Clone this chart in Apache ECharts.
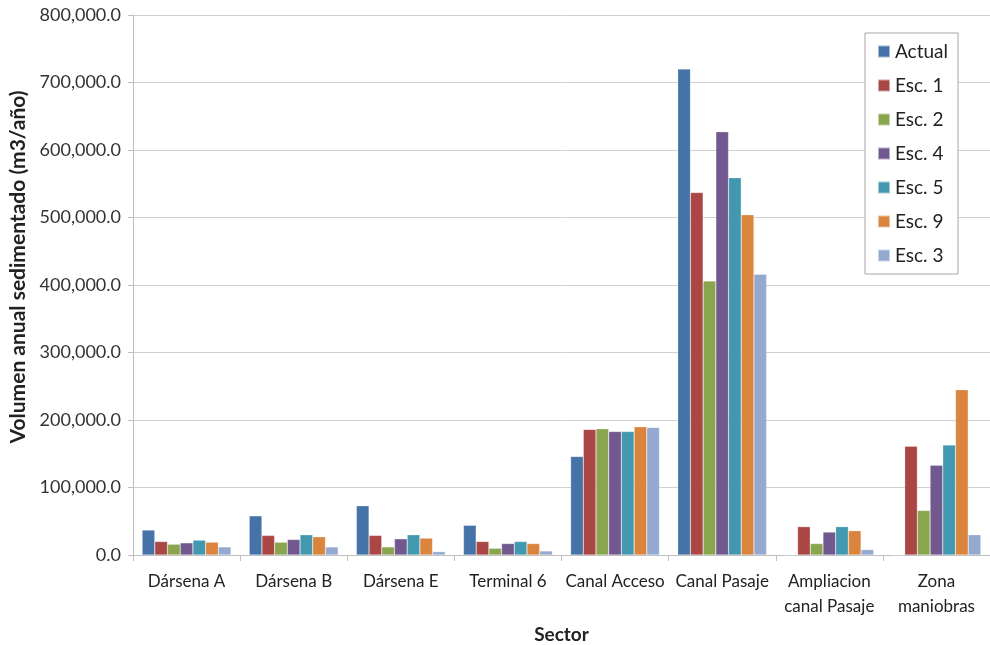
<!DOCTYPE html>
<html>
<head>
<meta charset="utf-8">
<script src="https://cdn.jsdelivr.net/npm/echarts@6/dist/echarts.min.js"></script>
<style>
  html, body { margin: 0; padding: 0; background: #fff; }
  #chart { width: 990px; height: 645px; }
</style>
</head>
<body>
<div id="chart"></div>
<script>
// Sectores y volumen anual sedimentado (m3/año) por escenario
const sectors = ['Dársena A', 'Dársena B', 'Dársena E', 'Terminal 6', 'Canal Acceso', 'Canal Pasaje', 'Ampliacion\ncanal Pasaje', 'Zona\nmaniobras'];
const seriesNames = ['Actual', 'Esc. 1', 'Esc. 2', 'Esc. 4', 'Esc. 5', 'Esc. 9', 'Esc. 3'];
const actual = [37000, 58000, 73000, 44000, 146000, 720000, 0, 0];
const esc1   = [20000, 29000, 29000, 20000, 186000, 537000, 42000, 161000];
const esc2   = [16000, 19000, 12000, 10000, 187000, 406000, 17000, 66000];
const esc4   = [18000, 23000, 24000, 17000, 183000, 627000, 34000, 133000];
const esc5   = [22000, 30000, 30000, 20000, 183000, 559000, 42000, 163000];
const esc9   = [19000, 27000, 25000, 17000, 190000, 504000, 36000, 245000];
const esc3   = [12000, 12000, 5000, 6000, 189000, 416000, 8000, 30000];
const yTicks = { min: 0, max: 800000, interval: 100000 };

const colors = ['#4572A7', '#AA4643', '#89A54E', '#71588F', '#4198AF', '#DB843D', '#93A9CF'];
const values = [actual, esc1, esc2, esc4, esc5, esc9, esc3];
const font = 'Lato, "Open Sans", sans-serif';

const chart = echarts.init(document.getElementById('chart'));
chart.setOption({
  animation: false,
  color: colors,
  textStyle: { fontFamily: font },
  grid: { left: 133, right: 0, top: 15, bottom: 90, containLabel: false, outerBoundsMode: 'none' },
  legend: {
    orient: 'vertical',
    left: 865, top: 33,
    data: seriesNames,
    itemWidth: 12, itemHeight: 12,
    itemGap: 13,
    icon: 'rect',
    padding: [8, 10, 8, 12],
    borderColor: '#a6a6a6', borderWidth: 1,
    backgroundColor: '#fff',
    textStyle: { fontSize: 19, lineHeight: 21, color: '#222', fontFamily: font }
  },
  xAxis: {
    type: 'category',
    data: sectors,
    name: 'Sector',
    nameLocation: 'middle',
    nameGap: 70,
    nameTextStyle: { fontSize: 19, fontWeight: 'bold', color: '#222', fontFamily: font },
    axisLine: { lineStyle: { color: '#bfbfbf' } },
    axisTick: { show: true, length: 6, lineStyle: { color: '#bfbfbf' } },
    axisLabel: { fontSize: 17, color: '#222', margin: 14, lineHeight: 25, interval: 0, fontFamily: font }
  },
  yAxis: {
    type: 'value',
    min: yTicks.min, max: yTicks.max, interval: yTicks.interval,
    name: 'Volumen anual sedimentado (m3/año)',
    nameLocation: 'middle',
    nameGap: 100,
    nameTextStyle: { fontSize: 21, fontWeight: 'bold', color: '#222', fontFamily: font, padding: [0, 0, 0, 36] },
    axisLine: { show: true, lineStyle: { color: '#bfbfbf' } },
    axisTick: { show: true, length: 5, lineStyle: { color: '#bfbfbf' } },
    splitLine: { lineStyle: { color: '#d0d0d0' } },
    axisLabel: {
      fontSize: 18, color: '#333', margin: 12, fontFamily: font,
      formatter: v => v.toLocaleString('en-US', { minimumFractionDigits: 1, maximumFractionDigits: 1 })
    }
  },
  series: seriesNames.map((n, i) => ({
    name: n,
    type: 'bar',
    data: values[i],
    barGap: '0%',
    barCategoryGap: '17%',
    itemStyle: { borderColor: 'rgba(255,255,255,0.5)', borderWidth: 0.5 }
  }))
});
</script>
</body>
</html>
